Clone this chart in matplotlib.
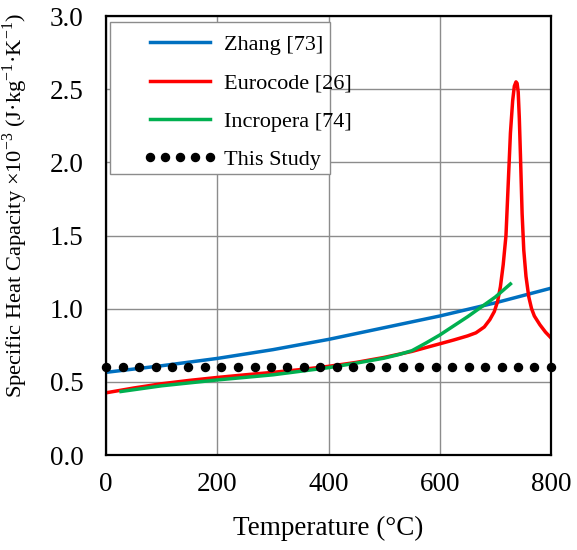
import matplotlib
matplotlib.use("Agg")
import matplotlib.pyplot as plt
from matplotlib.patches import Rectangle

plt.rcParams['font.family'] = ['Liberation Serif', 'DejaVu Serif']
plt.rcParams['mathtext.fontset'] = 'custom'
plt.rcParams['mathtext.rm'] = 'Liberation Serif'

# data (values x10^-3 J/kg/K)
zhang_t = [0, 100, 200, 300, 400, 500, 600, 700, 800]
zhang_c = [0.565, 0.61, 0.66, 0.72, 0.79, 0.87, 0.95, 1.04, 1.14]

euro_t = [0, 50, 100, 150, 200, 250, 300, 350, 400, 450, 500, 550, 600, 625, 650, 665,
          680, 690, 698, 704, 709, 714, 719, 723, 727, 731, 734, 737, 739, 741, 743, 745,
          748, 751, 755, 760, 765, 770, 780, 790, 800]
euro_c = [0.425, 0.458, 0.487, 0.510, 0.530, 0.548, 0.565, 0.584, 0.606, 0.633, 0.667,
          0.708, 0.760, 0.786, 0.814, 0.835, 0.875, 0.925, 0.98, 1.05, 1.15, 1.30, 1.50,
          1.85, 2.20, 2.42, 2.52, 2.55, 2.54, 2.48, 2.30, 2.05, 1.65, 1.40, 1.22, 1.08,
          1.00, 0.95, 0.89, 0.84, 0.80]

incr_t = [27, 100, 200, 300, 400, 450, 500, 525, 550, 575, 600, 650, 700, 727]
incr_c = [0.434, 0.473, 0.513, 0.548, 0.597, 0.628, 0.662, 0.685, 0.713, 0.765, 0.82,
          0.945, 1.08, 1.169]

study_t = [0, 30, 59, 89, 119, 148, 178, 207, 237, 267, 296, 326, 356, 385, 415, 444,
           474, 504, 533, 563, 593, 622, 652, 681, 711, 741, 770, 800]
study_c = [0.6] * len(study_t)

fig = plt.figure(figsize=(5.77, 5.5), dpi=100)
ax = fig.add_axes([0.1837, 0.1727, 0.7713, 0.7982])

ax.plot(zhang_t, zhang_c, color='#0070C0', lw=2.5, label='Zhang [73]', zorder=2)
ax.plot(euro_t, euro_c, color='#FF0000', lw=2.5, label='Eurocode [26]', zorder=2)
ax.plot(incr_t, incr_c, color='#00B050', lw=2.5, label='Incropera [74]', zorder=2)
ax.plot(study_t, study_c, ls='none', marker='o', ms=5.8, color='black',
        label='This Study', zorder=4, clip_on=False)

ax.set_xlim(0, 800)
ax.set_ylim(0, 3.0)
ax.set_xticks([0, 200, 400, 600, 800])
ax.set_yticks([0, 0.5, 1.0, 1.5, 2.0, 2.5, 3.0])
ax.set_yticklabels(['0.0', '0.5', '1.0', '1.5', '2.0', '2.5', '3.0'])
ax.grid(True, color='#8c8c8c', lw=1.0)
ax.set_axisbelow(True)
ax.tick_params(axis='both', length=0, labelsize=19.5)
ax.tick_params(axis='x', pad=12)
ax.tick_params(axis='y', pad=16)
for s in ax.spines.values():
    s.set_linewidth(1.6)
    s.set_color('black')

ax.set_xlabel('Temperature (°C)', fontsize=19.5, labelpad=14)
ax.set_ylabel(r'Specific Heat Capacity ×10$^{\mathregular{-3}}$ (J·kg$^{\mathregular{-1}}$·K$^{\mathregular{-1}}$)',
              fontsize=16.2)
ax.yaxis.set_label_coords(-0.17, 0.569)

ax.add_patch(Rectangle((0.009, 0.640), 0.494, 0.346, transform=ax.transAxes,
                       facecolor='white', edgecolor='#8c8c8c', lw=1.0, zorder=3))
leg = ax.legend(loc='upper left', bbox_to_anchor=(0.085, 0.958), frameon=False,
                fontsize=16, handlelength=3.3, handletextpad=0.3, labelspacing=0.8,
                borderpad=0, borderaxespad=0, numpoints=5)
leg.set_zorder(6)

plt.savefig('out.png', dpi=100)
